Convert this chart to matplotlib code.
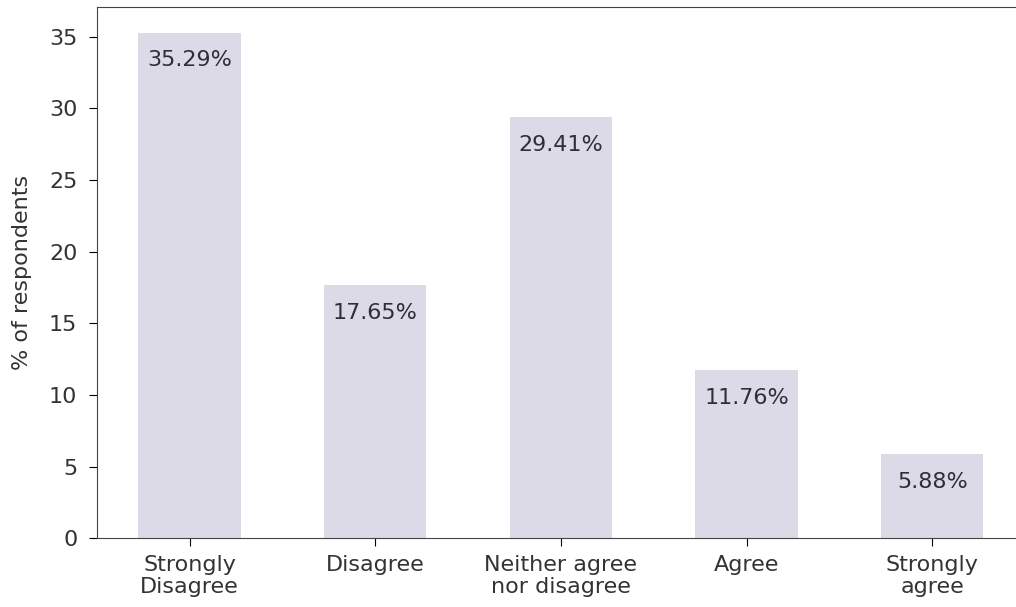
import matplotlib.pyplot as plt

categories = ["Strongly\nDisagree", "Disagree", "Neither agree\nnor disagree", "Agree", "Strongly\nagree"]
percent = [35.29, 17.65, 29.41, 11.76, 5.88]

fig = plt.figure(figsize=(10.16, 6.07), dpi=100)
ax = fig.add_axes([0.0952, 0.1132, 0.9137, 0.8748])

x = list(range(len(categories)))
bars = ax.bar(x, percent, width=0.55, color="#dcdae6")

for xi, v in zip(x, percent):
    ax.annotate(f"{v:.2f}%", (xi, v), xytext=(0, -20), textcoords="offset points",
                ha="center", va="center", fontsize=16, color="#2e2e3a")

ax.set_xticks(x)
ax.set_xticklabels(categories, fontsize=16, color="#333333", linespacing=1.15)
ax.set_xlim(-0.5, 4.5)
ax.set_ylim(0, max(percent) * 1.05)
ax.set_yticks([0, 5, 10, 15, 20, 25, 30, 35])
ax.tick_params(axis="y", labelsize=16, labelcolor="#333333", length=6, pad=8)
ax.tick_params(axis="x", length=6, pad=6)
ax.set_ylabel("% of respondents", fontsize=16, color="#333333", labelpad=12)

for s in ax.spines.values():
    s.set_color("#444444")

fig.savefig("out.png", dpi=100)
